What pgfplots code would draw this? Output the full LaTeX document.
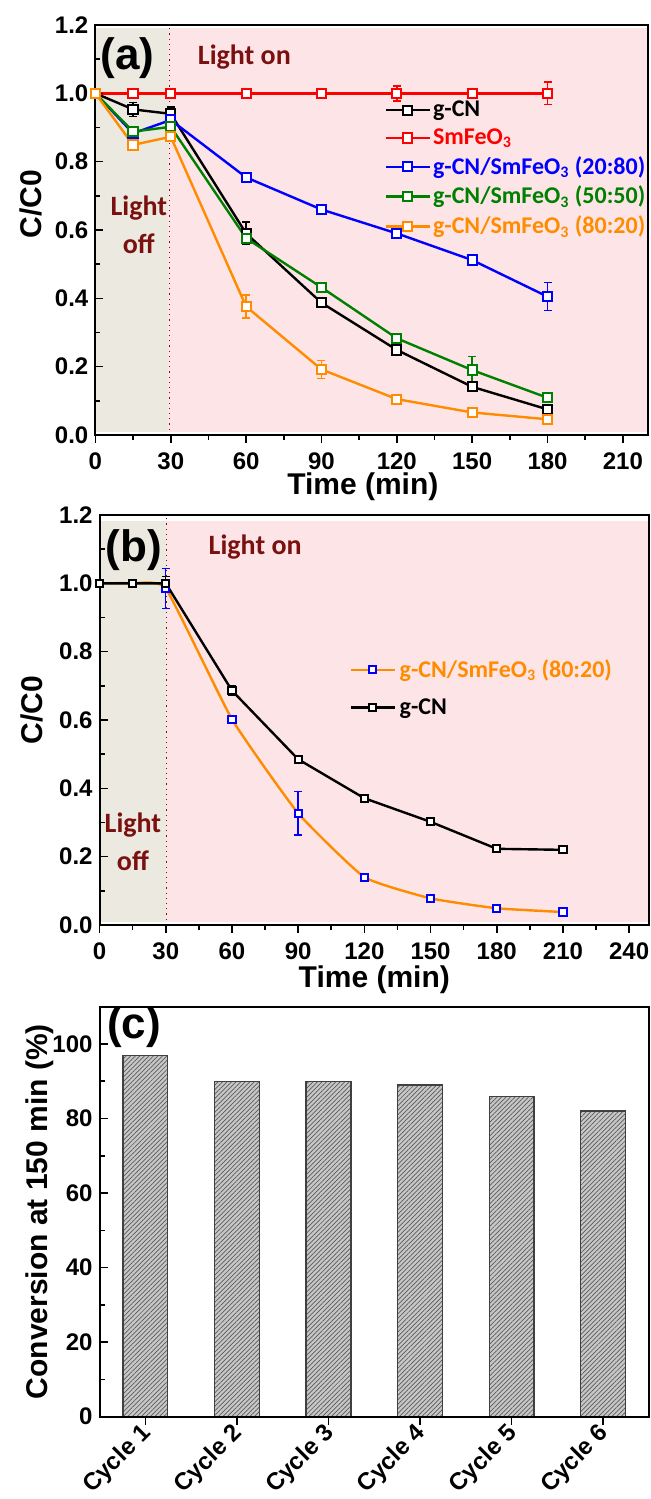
\documentclass[border=0pt]{standalone}
\usepackage{pgfplots}
\pgfplotsset{compat=1.18}
\usetikzlibrary{patterns.meta}
\usepackage{fontspec}
\setmainfont{Liberation Sans}
\newfontfamily\calfont{Carlito}

\definecolor{beigebg}{RGB}{236,233,224}
\definecolor{pinkbg}{RGB}{253,229,231}
\definecolor{darkred}{RGB}{122,16,16}
\definecolor{myorange}{RGB}{255,140,0}
\definecolor{mygreen}{RGB}{0,128,0}

\pgfplotsset{
  panel/.style={
    scale only axis, height=205pt, clip=false, axis on top,
    axis line style={line width=1pt},
    every tick/.style={black, line width=0.8pt},
    xtick pos=bottom, ytick pos=left,
    ytick align=inside, xtick align=outside,
    major tick length=4pt, minor tick length=2.5pt,
    ticklabel style={font=\bfseries\fontsize{12}{12}\selectfont},
    /pgf/number format/assume math mode=true,
    label style={font=\bfseries\fontsize{15}{15}\selectfont},
  },
  curve/.style={line width=1.2pt, mark=square*, mark size=2.3pt,
    mark options={fill=white, solid, line width=1pt},
    error bars/y dir=both, error bars/y explicit,
    error bars/error bar style={line width=0.7pt},
    error bars/error mark options={rotate=90, mark size=2pt, line width=0.7pt}},
  legline/.style={legend image code/.code={
    \draw[mark repeat=2, mark phase=2] plot coordinates {(0pt,0pt) (11pt,0pt) (22pt,0pt)};}},
}
\tikzset{
  lighttext/.style={font=\calfont\bfseries\fontsize{14}{19}\selectfont, text=darkred, align=center},
  paneltag/.style={font=\bfseries\fontsize{22}{22}\selectfont},
}

\begin{document}
\begin{tikzpicture}
\path[use as bounding box] (0,0) rectangle (325pt,-749.5pt);

% ---------------- (a)
\begin{axis}[panel, at={(47.7pt,-12.5pt)}, anchor=north west, width=276.3pt,
  xmin=0, xmax=220, ymin=0, ymax=1.2,
  xtick={0,30,...,210}, minor x tick num=1,
  ytick={0,0.2,...,1.2}, minor y tick num=1,
  yticklabel style={/pgf/number format/.cd, fixed, fixed zerofill, precision=1},
  xticklabel style={yshift=-1.5pt},
  xlabel={Time (min)}, ylabel={C/C0},
  xlabel style={at={(axis description cs:0.484,0)}, anchor=center, yshift=-26pt},
  ylabel style={at={(axis description cs:-0.116,0.563)}, anchor=center},
  legend style={at={(axis cs:115,0.985)}, anchor=north west, draw=none, fill=none,
    font=\calfont\bfseries\fontsize{12}{13}\selectfont, row sep=2.5pt, inner sep=0pt,
    nodes={inner sep=1pt}},
  legend cell align=left, legline]
  \fill[beigebg] (axis cs:0,0.008) rectangle (axis cs:29,1.19);
  \fill[pinkbg] (axis cs:29,0.008) rectangle (axis cs:219.5,1.19);
  \draw[darkred, dotted, line width=0.6pt] (axis cs:29.5,0) -- (axis cs:29.5,1.2);

  \addplot[curve, black] coordinates {
    (0,1.0) +- (0,0)
    (15,0.953) +- (0,0.02)
    (30,0.94) +- (0,0.02)
    (60,0.59) +- (0,0.033)
    (90,0.387) +- (0,0.01)
    (120,0.249) +- (0,0.01)
    (150,0.141) +- (0,0.01)
    (180,0.075) +- (0,0.01)};
  \addlegendentry{g-CN}
  \addplot[curve, red] coordinates {
    (0,1.0) +- (0,0)
    (15,1.0) +- (0,0.01)
    (30,1.0) +- (0,0.01)
    (60,1.0) +- (0,0.01)
    (90,1.0) +- (0,0.01)
    (120,1.0) +- (0,0.022)
    (150,1.0) +- (0,0.01)
    (180,1.0) +- (0,0.033)};
  \addlegendentry{\textcolor{red}{SmFeO\textsubscript{3}}}
  \addplot[curve, blue] coordinates {
    (0,1.0) +- (0,0)
    (15,0.883) +- (0,0.01)
    (30,0.922) +- (0,0.012)
    (60,0.754) +- (0,0.01)
    (90,0.66) +- (0,0.01)
    (120,0.59) +- (0,0.01)
    (150,0.512) +- (0,0.01)
    (180,0.405) +- (0,0.041)};
  \addlegendentry{\textcolor{blue}{g-CN/SmFeO\textsubscript{3} (20:80)}}
  \addplot[curve, mygreen] coordinates {
    (0,1.0) +- (0,0)
    (15,0.888) +- (0,0.01)
    (30,0.902) +- (0,0.01)
    (60,0.576) +- (0,0.012)
    (90,0.432) +- (0,0.01)
    (120,0.283) +- (0,0.01)
    (150,0.19) +- (0,0.04)
    (180,0.109) +- (0,0.01)};
  \addlegendentry{\textcolor{mygreen}{g-CN/SmFeO\textsubscript{3} (50:50)}}
  \addplot[curve, myorange] coordinates {
    (0,1.0) +- (0,0)
    (15,0.849) +- (0,0.01)
    (30,0.873) +- (0,0.01)
    (60,0.376) +- (0,0.034)
    (90,0.192) +- (0,0.026)
    (120,0.105) +- (0,0.01)
    (150,0.066) +- (0,0.01)
    (180,0.046) +- (0,0.01)};
  \addlegendentry{\textcolor{myorange}{g-CN/SmFeO\textsubscript{3} (80:20)}}

  \node[paneltag] at (axis cs:12.8,1.102) {(a)};
  \node[lighttext] at (axis cs:59.3,1.107) {Light on};
  \node[lighttext] at (axis cs:17.3,0.615) {Light\\off};
\end{axis}

% ---------------- (b)
\begin{axis}[panel, at={(49.8pt,-257.5pt)}, anchor=north west, width=274.7pt,
  xmin=0, xmax=249, ymin=0, ymax=1.2,
  xtick={0,30,...,240}, minor x tick num=1,
  ytick={0,0.2,...,1.2}, minor y tick num=1,
  yticklabel style={/pgf/number format/.cd, fixed, fixed zerofill, precision=1},
  xticklabel style={yshift=-1.5pt},
  xlabel={Time (min)}, ylabel={C/C0},
  xlabel style={at={(axis description cs:0.5,0)}, anchor=center, yshift=-27.5pt},
  ylabel style={at={(axis description cs:-0.124,0.524)}, anchor=center},
  legend style={at={(axis cs:113,0.79)}, anchor=north west, draw=none, fill=none,
    font=\calfont\bfseries\fontsize{12}{13}\selectfont, row sep=5pt, inner sep=0pt},
  legend cell align=left, legline]
  \fill[beigebg] (axis cs:0,0.008) rectangle (axis cs:30,1.183);
  \fill[pinkbg] (axis cs:30,0.008) rectangle (axis cs:248.5,1.183);
  \draw[darkred, dotted, line width=0.6pt] (axis cs:30.5,0) -- (axis cs:30.5,1.2);

  \addplot[curve, myorange, mark size=1.8pt, smooth, tension=0.25,
    mark options={draw=blue, fill=white, solid, line width=1pt},
    error bars/error bar style={blue, line width=0.7pt}] coordinates {
    (0,1.0) +- (0,0)
    (15,1.0) +- (0,0)
    (30,0.985) +- (0,0.058)
    (60,0.602) +- (0,0.012)
    (90,0.327) +- (0,0.064)
    (120,0.14) +- (0,0.008)
    (150,0.078) +- (0,0.006)
    (180,0.049) +- (0,0.006)
    (210,0.038) +- (0,0.006)};
  \addlegendentry{\textcolor{myorange}{g-CN/SmFeO\textsubscript{3} (80:20)}}
  \addplot[curve, black, mark size=1.8pt] coordinates {
    (0,1.0) +- (0,0)
    (15,1.0) +- (0,0)
    (30,1.0) +- (0,0.02)
    (60,0.686) +- (0,0.015)
    (90,0.485) +- (0,0.01)
    (120,0.371) +- (0,0.006)
    (150,0.302) +- (0,0.006)
    (180,0.223) +- (0,0.006)
    (210,0.22) +- (0,0.006)};
  \addlegendentry{g-CN}

  \node[paneltag] at (axis cs:15.6,1.098) {(b)};
  \node[lighttext] at (axis cs:70.5,1.107) {Light on};
  \node[lighttext] at (axis cs:15.1,0.243) {Light\\off};
\end{axis}

% ---------------- (c)
\begin{axis}[panel, at={(49.8pt,-503.35pt)}, anchor=north west, width=274.7pt,
  ybar, bar width=0.49, xmin=0.5, xmax=6.5, ymin=0, ymax=110,
  xtick={1,...,6}, xticklabels={Cycle 1,Cycle 2,Cycle 3,Cycle 4,Cycle 5,Cycle 6},
  xticklabel style={rotate=45, anchor=east, inner sep=1pt, yshift=-2.5pt},
  ytick={0,20,...,100}, minor y tick num=1,
  ylabel={Conversion at 150 min (\%)},
  ylabel style={at={(axis description cs:-0.109,0.5)}, anchor=center}]
  \addplot[fill=black!22, draw=black!75, line width=0.6pt,
    postaction={pattern color=black!65,
      pattern={Lines[angle=45, distance=1.6pt, line width=0.35pt]}}]
    coordinates {(1,97) (2,90) (3,90) (4,89) (5,86) (6,82)};
  \node[paneltag] at (axis cs:0.876,104.4) {(c)};
\end{axis}
\end{tikzpicture}
\end{document}
